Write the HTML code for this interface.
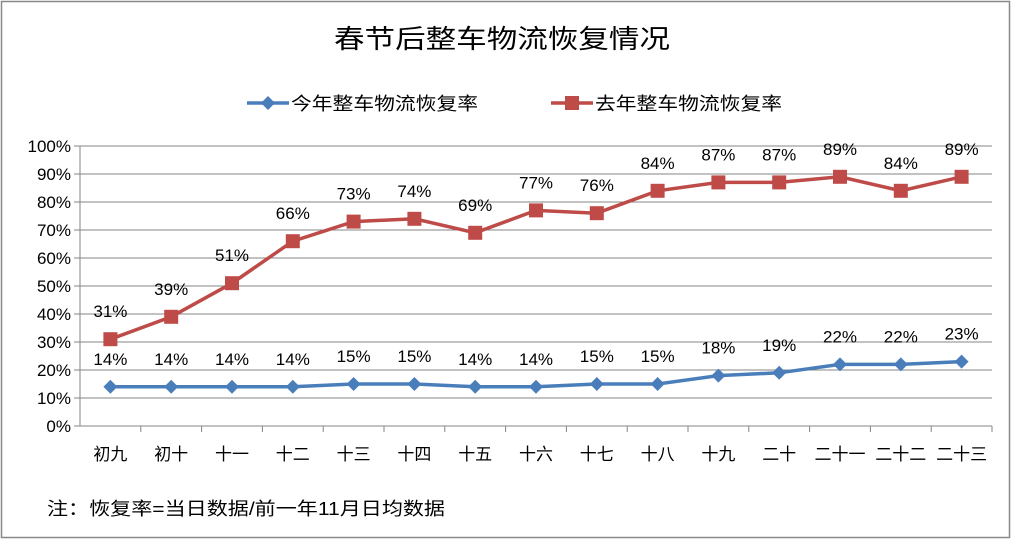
<!DOCTYPE html>
<html><head><meta charset="utf-8"><style>
body{margin:0;background:#fff;}
svg{display:block;font-family:"Liberation Sans","Noto Sans CJK SC",sans-serif;}
</style></head><body>
<svg id="chart" width="1012" height="540">
<rect x="1.5" y="1.5" width="1008" height="536" fill="#fff" stroke="#888" stroke-width="1.5"/>
<text x="334" y="48" font-size="26" textLength="336" lengthAdjust="spacingAndGlyphs" fill="#000">春节后整车物流恢复情况</text>
<g>
<g>
<line x1="247" y1="103" x2="289" y2="103" stroke="#4a7ebb" stroke-width="3.5"/>
<path d="M268 96 L275 103 L268 110 L261 103Z" fill="#4a7ebb"/>
<text x="291" y="110" font-size="18" textLength="187" lengthAdjust="spacingAndGlyphs">今年整车物流恢复率</text></g>
<g>
<line x1="551" y1="103" x2="593" y2="103" stroke="#be4b48" stroke-width="3.5"/>
<rect x="565" y="96" width="14" height="14" fill="#be4b48"/>
<text x="595" y="110" font-size="18" textLength="187" lengthAdjust="spacingAndGlyphs">去年整车物流恢复率</text></g>
</g>
<g id="grid"></g><g id="axes"></g><g id="series"></g>
<text x="47" y="515" font-size="18" textLength="398" lengthAdjust="spacingAndGlyphs">注：恢复率=当日数据/前一年11月日均数据</text>
</svg>
<script>
const categories=["初九","初十","十一","十二","十三","十四","十五","十六","十七","十八","十九","二十","二十一","二十二","二十三"];
const thisYear=[14,14,14,14,15,15,14,14,15,15,18,19,22,22,23];
const lastYear=[31,39,51,66,73,74,69,77,76,84,87,87,89,84,89];
const yTicks=[0,10,20,30,40,50,60,70,80,90,100];
const L=80,R=992,T=146,B=426;
const NS="http://www.w3.org/2000/svg";
const bw=(R-L)/categories.length;
const x=i=>L+bw*(i+0.5);
const y=v=>B-(B-T)*v/100;
function mk(t,a,p){const e=document.createElementNS(NS,t);for(const k in a)e.setAttribute(k,a[k]);p.appendChild(e);return e;}
const grid=document.getElementById('grid'),axes=document.getElementById('axes'),ser=document.getElementById('series');
yTicks.forEach(v=>{
 const g=mk('line',{x1:L-6,x2:R,y1:y(v),y2:y(v),stroke:'#868686','stroke-width':1},grid);
 
 
 const t=mk('text',{x:L-9,y:y(v)+6,'text-anchor':'end','font-size':17},axes);
 t.textContent=v+'%';
 
 
});
const ya=mk('line',{x1:L,x2:L,y1:T,y2:B,stroke:'#868686'},axes);


categories.forEach((c,i)=>{
 const tk=mk('line',{x1:L+bw*(i+1),x2:L+bw*(i+1),y1:B,y2:B+6,stroke:'#868686'},axes);
 
 
 const t=mk('text',{x:x(i),y:B+34,'text-anchor':'middle','font-size':17},axes);
 t.textContent=c;
 
 
});
function series(data,color,shape,name){
 const pl=mk('polyline',{points:data.map((v,i)=>x(i)+','+y(v)).join(' '),fill:'none',stroke:color,'stroke-width':3.5},ser);
 
 
 data.forEach((v,i)=>{
  let m;
  if(shape==='sq') m=mk('rect',{x:x(i)-7,y:y(v)-7,width:14,height:14,fill:color},ser);
  else m=mk('path',{d:`M${x(i)} ${y(v)-7}L${x(i)+7} ${y(v)}L${x(i)} ${y(v)+7}L${x(i)-7} ${y(v)}Z`,fill:color},ser);
  
  
  const t=mk('text',{x:x(i),y:y(v)-22,'text-anchor':'middle','font-size':17},ser);
  t.textContent=v+'%';
  
  
 });
}
series(lastYear,'#be4b48','sq','last-year');
series(thisYear,'#4a7ebb','dia','this-year');
</script>
</body></html>
